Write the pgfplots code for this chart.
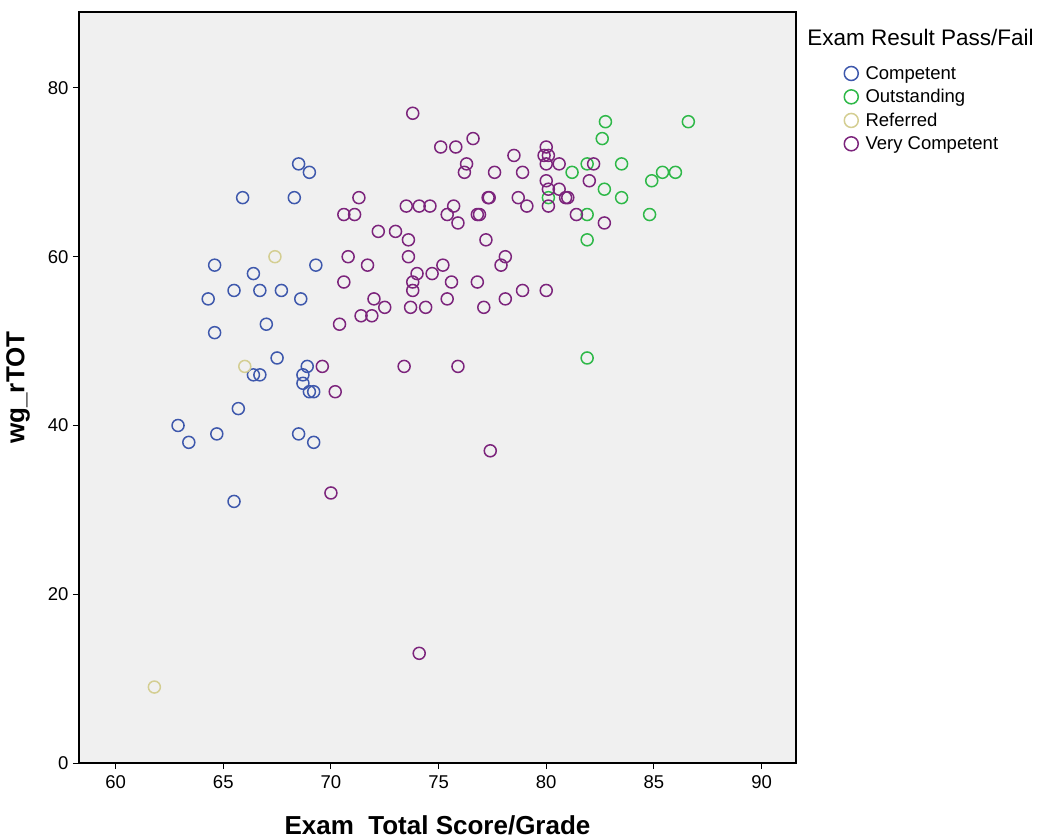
\documentclass[border=0pt]{standalone}
\usepackage{pgfplots}
\pgfplotsset{compat=1.18}
\usepackage{fontspec}
\setmainfont{Liberation Sans}

\definecolor{cComp}{RGB}{62,88,172}
\definecolor{cOuts}{RGB}{46,184,72}
\definecolor{cRef}{RGB}{212,206,146}
\definecolor{cVery}{RGB}{124,36,124}
\definecolor{plotbg}{RGB}{240,240,240}

\begin{document}
\begin{tikzpicture}
\path[use as bounding box] (-79pt,-76pt) rectangle (963pt,763pt);
\begin{axis}[
  at={(0,0)}, anchor=south west,
  scale only axis, width=717pt, height=751pt,
  xmin=58.3, xmax=91.6, ymin=0, ymax=89,
  xtick={60,65,...,90}, ytick={0,20,40,60,80},
  xtick pos=left, ytick pos=left,
  tick align=outside, major tick length=6pt,
  every tick/.style={black, line width=1pt},
  axis line style={black, line width=1.4pt},
  axis background/.style={fill=plotbg},
  /pgf/number format/assume math mode=true,
  ticklabel style={font=\fontsize{18.5}{22}\selectfont},
  xticklabel style={yshift=-3pt},
  yticklabel style={xshift=-1pt},
  xlabel={\textbf{Exam~~Total Score/Grade}},
  ylabel={\textbf{wg\_rTOT}},
  label style={font=\fontsize{26}{30}\selectfont\bfseries},
  xlabel style={at={(axis description cs:0.5,-0.0825)}, anchor=center},
  ylabel style={at={(axis description cs:-0.085,0.5)}, anchor=center},
  legend style={at={(rel axis cs:1.066,0.93)}, anchor=north west,
    draw=none, fill=none, font=\fontsize{18.5}{21}\selectfont,
    row sep=5.7pt, inner sep=0pt,
    nodes={inner sep=1.5pt},
    /tikz/every even column/.append style={column sep=0pt}},
  legend cell align=left,
  legend image code/.code={%
    \draw[#1, mark size=7pt, line width=1.5pt] plot coordinates {(7pt,0pt)};
    \path (0pt,0pt) (19pt,0pt);},
  every axis plot/.append style={only marks, mark=o, mark size=6pt, line width=1.5pt},
  clip=false,
]
% Competent
\addplot[cComp] coordinates {
(68.5,71)(69.0,70)(65.9,67)(68.3,67)(64.6,59)(69.3,59)(66.4,58)(65.5,56)
(66.7,56)(67.7,56)(64.3,55)(68.6,55)(67.0,52)(64.6,51)(67.5,48)(68.9,47)
(66.4,46)(66.7,46)(68.7,46)(68.7,45)(69.0,44)(69.2,44)(65.7,42)(62.9,40)
(64.7,39)(68.5,39)(63.4,38)(69.2,38)(65.5,31)
};
\addlegendentry{Competent}
% Outstanding
\addplot[cOuts] coordinates {
(82.75,76)(86.6,76)(82.6,74)(81.9,71)(83.5,71)(85.4,70)(86.0,70)(81.2,70)
(84.9,69)(82.7,68)(83.5,67)(80.1,67)(81.9,65)(84.8,65)(81.9,62)(81.9,48)
};
\addlegendentry{Outstanding}
% Referred
\addplot[cRef] coordinates {
(67.4,60)(66.0,47)(61.8,9)
};
\addlegendentry{Referred}
% Very Competent
\addplot[cVery] coordinates {
(73.8,77)(76.6,74)(75.1,73)(75.8,73)(80.0,73)(78.5,72)(79.9,72)(80.1,72)
(76.3,71)(80.0,71)(80.6,71)(82.2,71)(76.2,70)(77.6,70)(78.9,70)(80.0,69)
(82.0,69)(80.1,68)(80.6,68)(71.3,67)(77.3,67)(77.35,67)(78.7,67)(80.9,67)
(81.0,67)(73.5,66)(74.1,66)(74.6,66)(75.7,66)(79.1,66)(80.1,66)(70.6,65)
(71.1,65)(75.4,65)(76.8,65)(76.9,65)(81.4,65)(75.9,64)(82.7,64)(72.2,63)
(73.0,63)(73.6,62)(77.2,62)(70.8,60)(73.6,60)(78.1,60)(71.7,59)(75.2,59)
(77.9,59)(74.0,58)(74.7,58)(70.6,57)(73.8,57)(75.6,57)(76.8,57)(73.8,56)
(78.9,56)(80.0,56)(72.0,55)(75.4,55)(78.1,55)(72.5,54)(73.7,54)(74.4,54)
(77.1,54)(71.4,53)(71.9,53)(70.4,52)(69.6,47)(73.4,47)(75.9,47)(70.2,44)
(77.4,37)(70.0,32)(74.1,13)
};
\addlegendentry{Very Competent}
\node[anchor=west, font=\fontsize{22.5}{26}\selectfont, inner sep=0pt]
  at (rel axis cs:1.0155,0.966) {Exam Result Pass/Fail};
\end{axis}
\end{tikzpicture}
\end{document}
